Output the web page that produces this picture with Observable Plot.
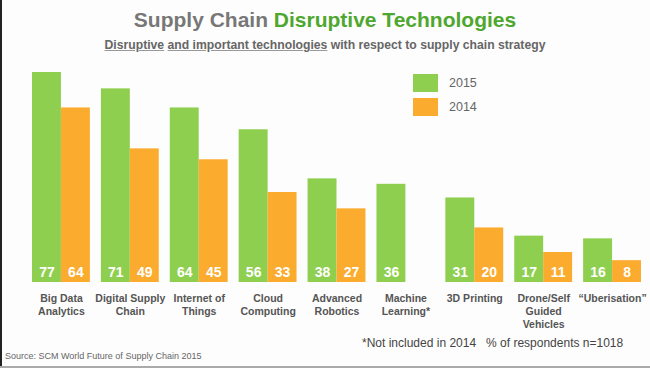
<!DOCTYPE html>
<html>
<head>
<meta charset="utf-8">
<script src="https://cdn.jsdelivr.net/npm/d3@7"></script>
<script src="https://cdn.jsdelivr.net/npm/@observablehq/plot@0.6"></script>
<style>
  html, body { margin: 0; padding: 0; background: #fff; }
  #wrap { position: relative; width: 650px; height: 368px; overflow: hidden; background: #fdfdfd;
          font-family: "Liberation Sans", Arial, sans-serif; }
  #wrap svg { position: absolute; left: 0; top: 0; }
  .abs { position: absolute; white-space: nowrap; }
  #title { left: 0; width: 650px; top: 8px; text-align: center; font-size: 21px; font-weight: bold; color: #777; line-height: 24px; }
  #title .g { color: #4ea72e; }
  #sub { left: 0; width: 650px; top: 37px; text-align: center; font-size: 12.2px; font-weight: bold; color: #666; line-height: 16px; }
  #sub u { text-decoration-color: #999; }
  .sw { position: absolute; width: 25px; height: 18px; }
  .lt { position: absolute; font-size: 12.5px; color: #666; line-height: 14px; }
  #foot { left: 362px; top: 336px; font-size: 12px; color: #444; }
  #src { left: 5px; top: 351px; font-size: 9px; color: #666; }
  #edge { position: absolute; left: 0; top: 0; width: 2px; height: 368px; background: #222; }
  #bot { position: absolute; left: 0; top: 366px; width: 650px; height: 2px; background: #aaa; }
</style>
</head>
<body>
<div id="wrap">
  <div id="chart"></div>
  <div id="title" class="abs">Supply Chain <span class="g">Disruptive Technologies</span></div>
  <div id="sub" class="abs"><u>Disruptive</u> <u>and important technologies</u> with respect to supply chain strategy</div>
  <div id="legend"></div>
  <div id="foot" class="abs">*Not included in 2014&nbsp;&nbsp;&nbsp;% of respondents n=1018</div>
  <div id="src" class="abs">Source: SCM World Future of Supply Chain 2015</div>
  <div id="edge"></div>
  <div id="bot"></div>
</div>
<script>
const categories = ["Big Data Analytics", "Digital Supply Chain", "Internet of Things", "Cloud Computing",
  "Advanced Robotics", "Machine Learning*", "3D Printing", "Drone/Self Guided Vehicles", "Uberisation"];
const tickLabels = ["Big Data\nAnalytics", "Digital Supply\nChain", "Internet of\nThings", "Cloud\nComputing",
  "Advanced\nRobotics", "Machine\nLearning*", "3D Printing", "Drone/Self\nGuided\nVehicles", "\u201cUberisation\u201d"];
const years = ["2015", "2014"];
const values2015 = [77, 71, 64, 56, 38, 36, 31, 17, 16];
const values2014 = [64, 49, 45, 33, 27, null, 20, 11, 8];
const colors = ["#8fcf4f", "#fbab2d"];

const rows = [];
categories.forEach((c, i) => {
  if (values2015[i] != null) rows.push({cat: c, year: "2015", value: values2015[i]});
  if (values2014[i] != null) rows.push({cat: c, year: "2014", value: values2014[i]});
});
const labelOf = new Map(categories.map((c, i) => [c, tickLabels[i]]));

const chart = Plot.plot({
  width: 650,
  height: 345,
  marginTop: 72,
  marginBottom: 63,
  marginLeft: 32,
  marginRight: 9,
  style: {background: "transparent", fontFamily: "Liberation Sans, Arial, sans-serif"},
  fx: {domain: categories, paddingInner: 0.16, paddingOuter: 0, round: false, label: null, axis: null},
  x: {domain: years, padding: 0, round: false, axis: null},
  y: {domain: [0, 77], axis: null},
  color: {domain: years, range: colors},
  marks: [
    Plot.barY(rows, {fx: "cat", x: "year", y: "value", fill: "year"}),
    Plot.text(rows, {fx: "cat", x: "year", y: 0, dy: -10, text: d => String(d.value),
      fill: "white", fontWeight: "bold", fontSize: 14}),
    Plot.axisFx({anchor: "bottom", tickSize: 0, tickPadding: 11, tickFormat: d => labelOf.get(d), label: null,
      fontSize: 10.5, fontWeight: "bold", fill: "#555", lineHeight: 1.2})
  ]
});
document.getElementById("chart").appendChild(chart);

const legend = document.getElementById("legend");
const legendTops = [74, 98];
years.forEach((y, i) => {
  const sw = document.createElement("div");
  sw.className = "sw";
  sw.style.left = "413px";
  sw.style.top = legendTops[i] + "px";
  sw.style.background = colors[i];
  legend.appendChild(sw);
  const t = document.createElement("div");
  t.className = "lt";
  t.style.left = "449px";
  t.style.top = (legendTops[i] + 2) + "px";
  t.textContent = y;
  legend.appendChild(t);
});
</script>
</body>
</html>
